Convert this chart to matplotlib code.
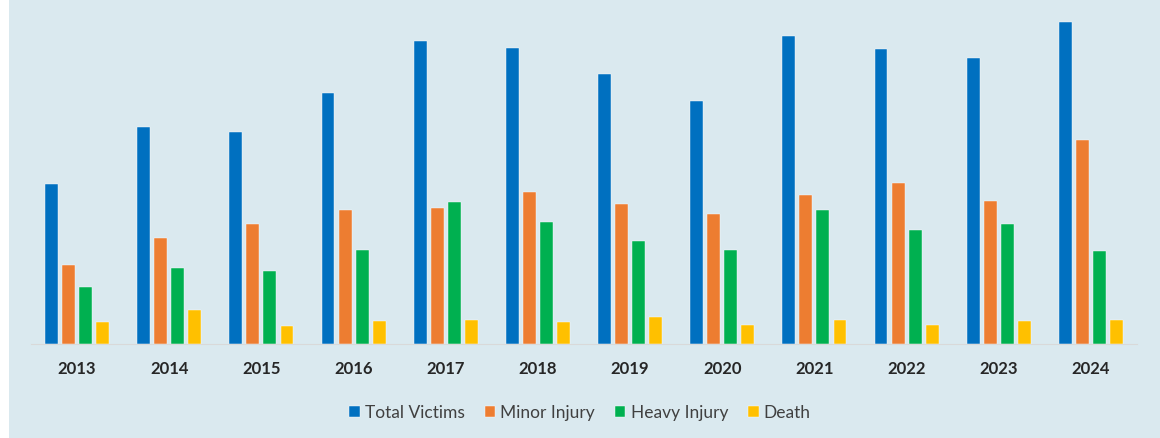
import numpy as np
import matplotlib.pyplot as plt
from matplotlib.patches import Rectangle

plt.rcParams['font.family'] = ['Lato', 'DejaVu Sans']

years = ['2013', '2014', '2015', '2016', '2017', '2018',
         '2019', '2020', '2021', '2022', '2023', '2024']
# bar heights (no value axis shown)
total_victims = [160, 217, 212, 251, 303, 296, 270, 243, 308, 295, 286, 322]
minor_injury = [79, 106, 120, 134, 136, 152, 140, 130, 149, 161, 143, 204]
heavy_injury = [57, 76, 73, 94, 142, 122, 103, 94, 134, 114, 120, 93]
death = [22, 34, 18, 23, 24, 22, 27, 19, 24, 19, 23, 24]

series = [('Total Victims', total_victims, '#0070C0'),
          ('Minor Injury', minor_injury, '#ED7D31'),
          ('Heavy Injury', heavy_injury, '#00B050'),
          ('Death', death, '#FFC000')]

bg = '#DAE9EF'
fig = plt.figure(figsize=(11.6, 4.38), dpi=100)
fig.patch.set_facecolor('white')
fig.patches.append(Rectangle((9/1160, 0), 1 - 9/1160, 1, transform=fig.transFigure,
                             facecolor=bg, edgecolor='none', zorder=-1))

ax = fig.add_axes([31/1160, 94/438, 1106/1160, 334/438])
ax.patch.set_alpha(0)

x = np.arange(len(years))
w = 0.14
step = 0.185
for i, (name, vals, col) in enumerate(series):
    ax.bar(x + (i - 1.5) * step, vals, width=w, color=col, label=name,
           edgecolor='white', linewidth=0.3)

ax.set_xlim(-0.5, len(years) - 0.5)
ax.set_ylim(0, 334)
ax.set_xticks(x)
ax.set_xticklabels(years, fontsize=12, fontweight='bold', color='#262626')
ax.tick_params(axis='x', length=0, pad=12)
ax.set_yticks([])
for s in ['top', 'right', 'left']:
    ax.spines[s].set_visible(False)
ax.spines['bottom'].set_color('#D9D9D9')

leg = fig.legend(loc='center', bbox_to_anchor=(0.5, 25/438), ncol=4,
                 frameon=False, fontsize=12.5, handlelength=0.6, handleheight=0.6,
                 handletextpad=0.3, columnspacing=1.15)
for t in leg.get_texts():
    t.set_color('#404040')

fig.savefig('out.png', dpi=100, facecolor=fig.get_facecolor())
